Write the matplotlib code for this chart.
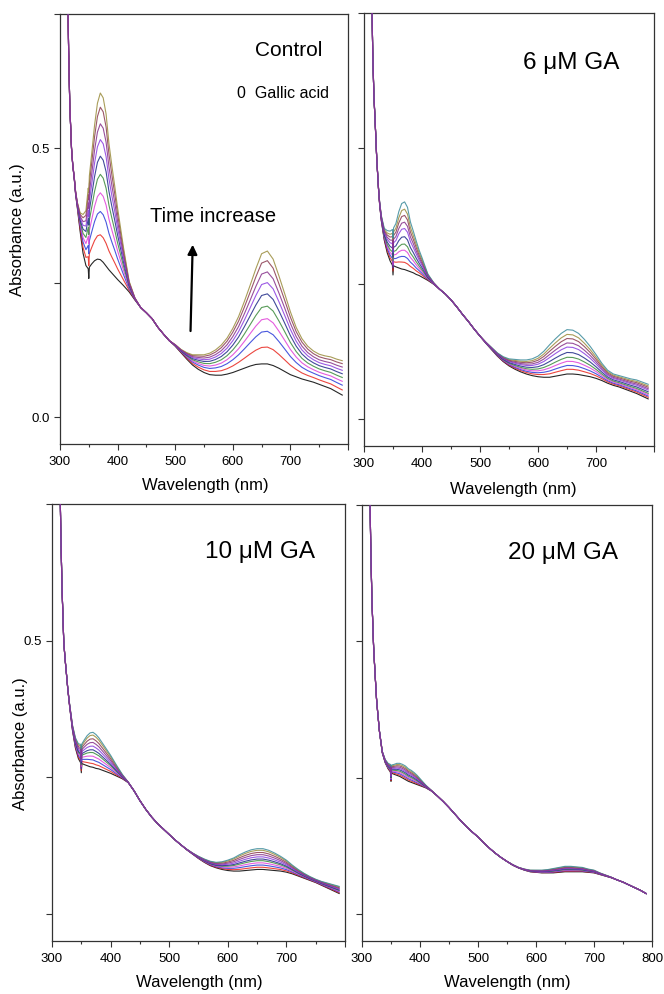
import numpy as np
import matplotlib
matplotlib.use('Agg')
import matplotlib.pyplot as plt
from matplotlib.ticker import MultipleLocator

plt.rcParams['font.family'] = ['Liberation Sans', 'DejaVu Sans']

# wavelength grid (nm), shared by all spectra
wl = [310, 312, 315, 317, 320, 322, 325, 327, 330, 335, 340, 345, 349, 350, 351, 355,
      360, 365, 370, 375, 380, 385, 390, 395, 400, 410, 420, 430, 440, 450,
      460, 470, 480, 490, 500, 510, 520, 530, 540, 550, 560, 570, 580, 590, 600,
      610, 620, 630, 640, 650, 660, 670, 680, 690, 700, 710, 720, 730, 740, 750,
      760, 770, 780, 790]

# first scan (t = 0) and total change up to the last scan, control
base_control = [1.1, 0.9, 0.68, 0.58, 0.5, 0.47, 0.44, 0.415, 0.39, 0.345, 0.305, 0.282, 0.276, 0.258, 0.279, 0.285,
                0.291, 0.294, 0.293, 0.288, 0.281, 0.274, 0.268, 0.262, 0.256, 0.245, 0.233, 0.218, 0.204, 0.194,
                0.183, 0.167, 0.154, 0.142, 0.132, 0.12, 0.108, 0.097, 0.089, 0.083, 0.079, 0.078, 0.078, 0.08, 0.083,
                0.087, 0.091, 0.095, 0.098, 0.099, 0.099, 0.096, 0.091, 0.085, 0.079, 0.075, 0.071, 0.068, 0.065, 0.061,
                0.057, 0.053, 0.047, 0.041]
growth_control = [0, 0, 0, 0, 0, 0.002, 0.004, 0.006, 0.01, 0.035, 0.072, 0.102, 0.15, 0.16, 0.17, 0.205,
                  0.252, 0.29, 0.31, 0.306, 0.283, 0.235, 0.2, 0.168, 0.133, 0.072, 0.02, 0.004, 0, 0,
                  0, 0, 0, 0, 0.003, 0.006, 0.012, 0.019, 0.027, 0.033, 0.04, 0.047, 0.056, 0.067, 0.082,
                  0.1, 0.124, 0.15, 0.178, 0.205, 0.21, 0.198, 0.172, 0.145, 0.117, 0.092, 0.075, 0.064, 0.058, 0.056,
                  0.057, 0.059, 0.061, 0.064]
peak650_control = [0.099, 0.1305, 0.160, 0.1836, 0.207, 0.230, 0.251, 0.271, 0.292, 0.310]

# 6 uM gallic acid
base_ga6 = [1.1, 0.88, 0.68, 0.6, 0.53, 0.48, 0.425, 0.395, 0.365, 0.33, 0.307, 0.292, 0.284, 0.266, 0.283, 0.281,
            0.279, 0.277, 0.276, 0.274, 0.272, 0.27, 0.267, 0.265, 0.262, 0.256, 0.249, 0.24, 0.231, 0.22,
            0.207, 0.193, 0.18, 0.166, 0.153, 0.14, 0.128, 0.116, 0.106, 0.098, 0.092, 0.087, 0.083, 0.08, 0.078,
            0.077, 0.077, 0.079, 0.081, 0.083, 0.083, 0.082, 0.08, 0.078, 0.075, 0.071, 0.066, 0.062, 0.059, 0.055,
            0.051, 0.047, 0.042, 0.037]
growth_ga6 = [0, 0, 0, 0, 0, 0, 0.002, 0.005, 0.01, 0.022, 0.041, 0.055, 0.066, 0.068, 0.07, 0.08,
              0.104, 0.121, 0.125, 0.117, 0.092, 0.077, 0.062, 0.047, 0.036, 0.012, 0.003, 0, 0, 0,
              0, 0, 0, 0, 0, 0.002, 0.004, 0.006, 0.009, 0.013, 0.018, 0.022, 0.026, 0.031, 0.038,
              0.048, 0.06, 0.069, 0.077, 0.082, 0.081, 0.076, 0.067, 0.056, 0.044, 0.032, 0.024, 0.021, 0.021, 0.022,
              0.023, 0.025, 0.026, 0.027]
peak650_ga6 = [0.0797, 0.0888, 0.0962, 0.1042, 0.112, 0.1213, 0.1317, 0.1397, 0.1483, 0.1562, 0.1654]

# 10 uM gallic acid
base_ga10 = [1.1, 0.9, 0.7, 0.6, 0.5, 0.47, 0.435, 0.41, 0.38, 0.335, 0.303, 0.284, 0.276, 0.258, 0.275, 0.273,
             0.271, 0.269, 0.268, 0.266, 0.265, 0.263, 0.261, 0.259, 0.257, 0.252, 0.247, 0.24, 0.225, 0.207,
             0.191, 0.177, 0.165, 0.155, 0.145, 0.135, 0.126, 0.117, 0.109, 0.101, 0.094, 0.088, 0.084, 0.081, 0.079,
             0.078, 0.078, 0.079, 0.08, 0.081, 0.081, 0.08, 0.079, 0.078, 0.076, 0.073, 0.069, 0.065, 0.061, 0.057,
             0.052, 0.047, 0.042, 0.037]
growth_ga10 = [0, 0, 0, 0, 0, 0, 0, 0.002, 0.004, 0.01, 0.019, 0.027, 0.034, 0.035, 0.036, 0.045,
               0.055, 0.062, 0.064, 0.062, 0.057, 0.051, 0.045, 0.039, 0.033, 0.02, 0.008, 0.001, 0, 0,
               0, 0, 0, 0, 0, 0, 0, 0.001, 0.002, 0.004, 0.006, 0.008, 0.01, 0.014, 0.019,
               0.024, 0.03, 0.034, 0.037, 0.038, 0.038, 0.036, 0.032, 0.027, 0.022, 0.016, 0.012, 0.009, 0.007, 0.006,
               0.007, 0.009, 0.011, 0.013]
peak650_ga10 = [0.081, 0.085, 0.089, 0.093, 0.097, 0.1, 0.104, 0.108, 0.112, 0.116, 0.119]

# 20 uM gallic acid
base_ga20 = [1.1, 0.88, 0.68, 0.58, 0.49, 0.45, 0.395, 0.37, 0.335, 0.295, 0.277, 0.266, 0.26, 0.243, 0.258, 0.256,
             0.254, 0.252, 0.249, 0.246, 0.243, 0.241, 0.239, 0.237, 0.235, 0.231, 0.225, 0.216, 0.206, 0.195,
             0.183, 0.171, 0.16, 0.15, 0.141, 0.13, 0.12, 0.111, 0.103, 0.096, 0.089, 0.084, 0.08, 0.077, 0.076,
             0.075, 0.075, 0.075, 0.076, 0.077, 0.077, 0.077, 0.077, 0.076, 0.075, 0.072, 0.069, 0.066, 0.062, 0.058,
             0.053, 0.048, 0.043, 0.037]
growth_ga20 = [0, 0, 0, 0, 0, 0, 0, 0, 0.001, 0.003, 0.006, 0.01, 0.014, 0.015, 0.015, 0.018,
               0.022, 0.024, 0.025, 0.025, 0.023, 0.022, 0.02, 0.017, 0.013, 0.005, 0.001, 0, 0, 0,
               0, 0, 0, 0, 0, 0, 0, 0, 0, 0, 0.001, 0.001, 0.002, 0.003, 0.004,
               0.005, 0.006, 0.008, 0.009, 0.01, 0.01, 0.009, 0.008, 0.006, 0.005, 0.003, 0.002, 0.001, 0, 0,
               0, 0, 0, 0]
peak650_ga20 = [0.077, 0.078, 0.079, 0.080, 0.081, 0.082, 0.083, 0.084, 0.085, 0.086, 0.087]

# one colour per scan, in time order
scan_colors = ['#000000', '#e8261e', '#2a3bd8', '#e040d8', '#3a8a3a', '#1f2a88',
               '#8a3ce0', '#86308a', '#8a3a50', '#9a8c3c', '#3a8a9a']

xticks = [300, 400, 500, 600, 700, 800]
yticks = [0.0, 0.25, 0.5, 0.75]


def draw_panel(ax, base, growth, peak650, label, label_xy, label_size, xlabels, ylabels, xlab_pos):
    base = np.array(base)
    growth = np.array(growth)
    p = np.array(peak650)
    frac = (p - p[0]) / (p[-1] - p[0])
    for k, f in enumerate(frac):
        # purple traces sit on top where the scans overlap
        z = 3 if scan_colors[k] in ('#8a3ce0', '#86308a') else 2
        ax.plot(wl, base + f * growth, color=scan_colors[k], lw=0.8, alpha=0.85, zorder=z)
    ax.set_xlim(300, 800)
    ax.set_ylim(-0.05, 0.75)
    ax.set_xticks(xticks)
    ax.set_xticklabels(xlabels, fontsize=9.5)
    ax.xaxis.set_minor_locator(MultipleLocator(50))
    ax.set_yticks(yticks)
    ax.set_yticklabels(ylabels, fontsize=9.5)
    ax.tick_params(which='major', direction='out', length=4.5, width=0.8, pad=4, color='#333333')
    ax.tick_params(which='minor', direction='out', length=2.5, width=0.8, color='#333333')
    ax.tick_params(axis='y', pad=2.5)
    for s in ax.spines.values():
        s.set_linewidth(0.9)
        s.set_color('#333333')
    ax.set_xlabel('Wavelength (nm)', fontsize=12)
    ax.xaxis.set_label_coords(*xlab_pos)
    ax.text(label_xy[0], label_xy[1], label, transform=ax.transAxes,
            ha='center', va='center', fontsize=label_size)


fig = plt.figure(figsize=(6.64, 9.94), dpi=100)
W, H = 664, 994


def add_ax(left, top, right, bottom):
    return fig.add_axes([left / W, 1 - bottom / H, (right - left) / W, (bottom - top) / H])


ax1 = add_ax(60, 14, 348, 444)
ax2 = add_ax(364, 13, 654, 446)
ax3 = add_ax(52, 504, 345, 941)
ax4 = add_ax(362, 505, 652, 941)

xl_short = ['300', '400', '500', '600', '700', '']
xl_full = ['300', '400', '500', '600', '700', '800']

draw_panel(ax1, base_control, growth_control, peak650_control, 'Control', (0.795, 0.914), 15,
           xl_short, ['0.0', '', '0.5', ''], (0.503, -0.079))
draw_panel(ax2, base_ga6, growth_ga6, peak650_ga6, '6 \u03bcM GA', (0.714, 0.885), 17.5,
           xl_short, ['', '', '', ''], (0.514, -0.082))
draw_panel(ax3, base_ga10, growth_ga10, peak650_ga10, '10 \u03bcM GA', (0.71, 0.89), 17.5,
           xl_short, ['', '', '0.5', ''], (0.502, -0.078))
draw_panel(ax4, base_ga20, growth_ga20, peak650_ga20, '20 \u03bcM GA', (0.693, 0.891), 17.5,
           xl_full, ['', '', '', ''], (0.502, -0.078))

ax1.text(0.774, 0.814, '0  Gallic acid', transform=ax1.transAxes,
         ha='center', va='center', fontsize=11.5)
ax1.text(0.53, 0.528, 'Time increase', transform=ax1.transAxes,
         ha='center', va='center', fontsize=14.5)
ax1.annotate('', xy=(530.5, 0.326), xytext=(526.5, 0.155),
             arrowprops=dict(arrowstyle='-|>', color='black', lw=1.6, mutation_scale=14))

ax1.set_ylabel('Absorbance (a.u.)', fontsize=12)
ax1.yaxis.set_label_coords(-0.1215, 0.498)
ax3.set_ylabel('Absorbance (a.u.)', fontsize=12)
ax3.yaxis.set_label_coords(-0.082, 0.451)

fig.savefig('out.png', dpi=100)
